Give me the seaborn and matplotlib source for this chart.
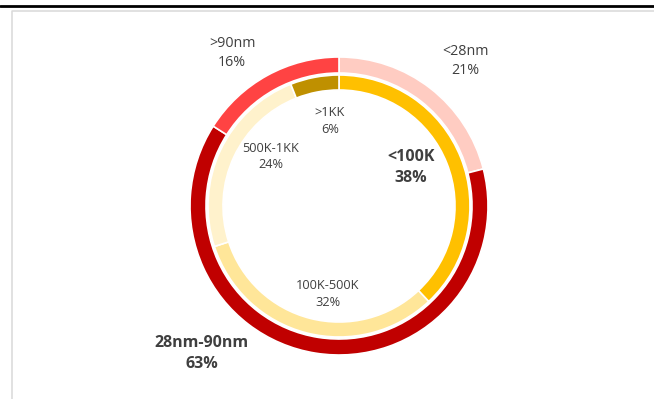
import matplotlib
matplotlib.use("Agg")
import matplotlib.pyplot as plt
import seaborn as sns
from matplotlib.lines import Line2D

# data
node_labels = ["<28nm", "28nm-90nm", ">90nm"]
node_shares = [21, 63, 16]
node_colors = ["#FFCCC2", "#C00000", "#FF4343"]

volume_labels = ["<100K", "100K-500K", "500K-1KK", ">1KK"]
volume_shares = [38, 32, 24, 6]
volume_colors = ["#FFC000", "#FFE699", "#FFF2CC", "#BF9000"]

# label placement (pie units, radius of outer ring = 1), layout only
node_label_pos = [(0.846, 0.973), (-0.921, -0.987), (-0.718, 1.027)]
node_label_bold = [False, True, False]
volume_label_pos = [(0.483, 0.258), (-0.077, -0.591), (-0.456, 0.332), (-0.06, 0.57)]
volume_label_bold = [True, False, False, False]

sns.set_theme(style="white")
plt.rcParams["font.family"] = ["Open Sans", "DejaVu Sans"]

W, H = 654, 399
fig = plt.figure(figsize=(W / 100, H / 100), dpi=100)

# frame lines
fig.add_artist(Line2D([0, 1], [1 - 5.5 / H, 1 - 5.5 / H], color="black", lw=2.0,
                      transform=fig.transFigure))
fig.add_artist(Line2D([11.5 / W, 11.5 / W, 1], [0, 1 - 10.5 / H, 1 - 10.5 / H],
                      color="#D9D9D9", lw=1.1, transform=fig.transFigure))

cx, cy, R = 339, 206, 149
ax = fig.add_axes([(cx - R) / W, (H - cy - R) / H, 2 * R / W, 2 * R / H])

ax.pie(node_shares, colors=node_colors, startangle=90, counterclock=False,
       radius=1.0, wedgeprops=dict(width=16 / R, edgecolor="white", linewidth=1.2))
ax.pie(volume_shares, colors=volume_colors, startangle=90, counterclock=False,
       radius=131 / R, wedgeprops=dict(width=15 / R, edgecolor="white", linewidth=1.2))
ax.set_xlim(-1, 1)
ax.set_ylim(-1, 1)
ax.set_aspect("equal")
ax.axis("off")

txt_color = "#3F3F3F"
for lab, val, (x, y), bold in zip(node_labels, node_shares, node_label_pos, node_label_bold):
    ax.text(x, y, f"{lab}\n{val}%", ha="center", va="center", color=txt_color,
            fontsize=11.5 if bold else 10.3, fontweight="bold" if bold else "normal",
            linespacing=1.42, clip_on=False)
for lab, val, (x, y), bold in zip(volume_labels, volume_shares, volume_label_pos, volume_label_bold):
    ax.text(x, y, f"{lab}\n{val}%", ha="center", va="center", color=txt_color,
            fontsize=11.5 if bold else 9.2, fontweight="bold" if bold else "normal",
            linespacing=1.45 if bold else 1.35, clip_on=False)

fig.savefig("out.png", dpi=100, facecolor="white")
